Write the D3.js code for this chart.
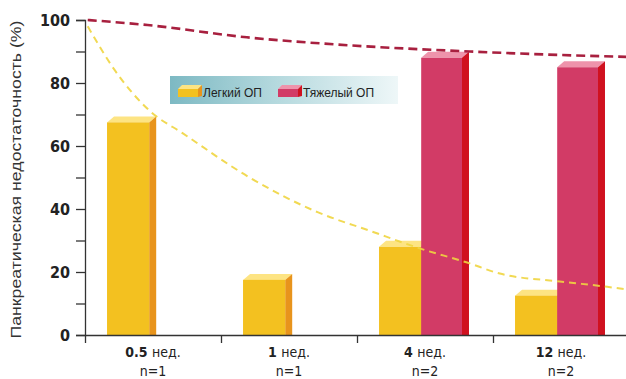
<!DOCTYPE html>
<html>
<head>
<meta charset="utf-8">
<script src="https://cdn.jsdelivr.net/npm/d3@7"></script>
<style>
  body { margin: 0; background: #fff; }
  svg { display: block; font-family: "Liberation Sans", Arial, sans-serif; }
</style>
</head>
<body>
<div id="chart"></div>
<script>
// data
const categories = ["0.5", "1", "4", "12"];
const sampleSizes = ["n=1", "n=1", "n=2", "n=2"];
const mildValues = [67.5, 17.5, 28, 12.5];
const severeValues = [null, null, 88, 85];
const yTicks = [0, 20, 40, 60, 80, 100];

// dashed trend lines, x in category units (0 = y axis, 4 = right edge)
const mildTrendX = [0.02, 0.22, 0.48, 0.72, 1.21, 1.71, 2.10, 2.46, 2.81, 3.05, 3.49, 3.84, 3.98];
const mildTrendY = [98, 84, 71, 64, 50, 39, 33, 27.5, 23, 19.5, 17, 15.3, 14.5];
const severeTrendX = [0.02, 0.46, 1.19, 1.93, 2.83, 3.49, 3.98];
const severeTrendY = [100, 98.4, 94.5, 92, 90, 88.9, 88.3];

const Width = 626, Height = 379;
const Margin = {top: 20, right: -3, bottom: 44, left: 85};

const svg = d3.select("#chart").append("svg")
    .attr("width", Width).attr("height", Height);

const ScaleX = d3.scaleBand().domain(categories)
    .range([Margin.left, Width - Margin.right]).paddingInner(0);
const ScaleT = d3.scaleLinear().domain([0, categories.length])
    .range([Margin.left, Width - Margin.right]);
const ScaleY = d3.scaleLinear().domain([0, 100])
    .range([Height - Margin.bottom, Margin.top]);

const bw = ScaleX.bandwidth();
const depth = 7, rise = 6;

const defs = svg.append("defs");
const lg = defs.append("linearGradient").attr("id", "legendBg")
    .attr("x1", 0).attr("x2", 1).attr("y1", 0).attr("y2", 0);
lg.append("stop").attr("offset", "0%").attr("stop-color", "#7db9c3");
lg.append("stop").attr("offset", "45%").attr("stop-color", "#b3d8dd");
lg.append("stop").attr("offset", "100%").attr("stop-color", "#eef7f8");

const palette = {
    mild: {front: "#f3c120", top: "#fde483", side: "#e8941c"},
    severe: {front: "#d23b66", top: "#ee93ab", side: "#d0111f"}
};

// 3D-looking bar: front, top and side faces
function bar3d(g, x, y0, y1, w, col)
{
    g.append("path").attr("fill", col.top)
        .attr("d", `M${x},${y1} L${x + depth},${y1 - rise} L${x + w + depth},${y1 - rise} L${x + w},${y1} Z`);
    g.append("path").attr("fill", col.side)
        .attr("d", `M${x + w},${y1} L${x + w + depth},${y1 - rise} L${x + w + depth},${y0} L${x + w},${y0} Z`);
    g.append("rect").attr("x", x).attr("y", y1).attr("width", w).attr("height", y0 - y1)
        .attr("fill", col.front);
}

const bars = svg.append("g");
categories.forEach((c, i) => {
    const base = ScaleY(0);
    if(mildValues[i] != null)
        bar3d(bars, ScaleX(c) + bw * 0.162, base, ScaleY(mildValues[i]), bw * 0.31, palette.mild);
    if(severeValues[i] != null)
        bar3d(bars, ScaleX(c) + bw * 0.472, base, ScaleY(severeValues[i]), bw * 0.30, palette.severe);
});

// y axis
const AxisY = d3.axisLeft(ScaleY).tickValues(d3.range(0, 101, 10))
    .tickSize(9).tickPadding(6)
    .tickFormat(d => yTicks.includes(d) ? d : "");
const gy = svg.append("g").attr("transform", `translate(${Margin.left},0)`).call(AxisY);
gy.select(".domain").attr("stroke", "#333").attr("stroke-width", 1.3);
gy.selectAll(".tick line").attr("stroke", "#333").attr("stroke-width", 1.3);
gy.selectAll(".tick text").attr("font-size", 16).attr("fill", "#222")
    .attr("font-family", "'Liberation Sans Narrow', 'DejaVu Sans Condensed', sans-serif")
    .attr("font-weight", 600);

// x axis: ticks at band boundaries
const AxisX = d3.axisBottom(ScaleT).tickValues(d3.range(0, categories.length))
    .tickSize(8).tickFormat("").tickSizeOuter(0);
const gx = svg.append("g").attr("transform", `translate(0,${ScaleY(0)})`).call(AxisX);
gx.select(".domain").attr("stroke", "#333").attr("stroke-width", 1.3);
gx.selectAll(".tick line").attr("stroke", "#333").attr("stroke-width", 1.3);

const catLabels = svg.append("g")
    .attr("font-family", "'Liberation Sans Narrow', 'DejaVu Sans Condensed', sans-serif")
    .attr("font-size", 14).attr("fill", "#222").attr("text-anchor", "middle");
categories.forEach((c, i) => {
    const cx = ScaleX(c) + bw / 2;
    const t = catLabels.append("text").attr("x", cx).attr("y", 357);
    t.append("tspan").attr("font-weight", "bold").text(c + " ");
    t.append("tspan").text("нед.");
    catLabels.append("text").attr("x", cx).attr("y", 376).text(sampleSizes[i]);
});

// y axis title
svg.append("text")
    .attr("transform", `translate(21,${ScaleY(50) + 2}) rotate(-90)`)
    .attr("text-anchor", "middle").attr("font-size", 14.5).attr("fill", "#333")
    .attr("textLength", 318).attr("lengthAdjust", "spacingAndGlyphs")
    .text("Панкреатическая недостаточность (%)");

// trend lines
const Line = d3.line().x(d => ScaleT(d[0])).y(d => ScaleY(d[1])).curve(d3.curveMonotoneX);
svg.append("path").attr("fill", "none").attr("stroke", "#f0d540")
    .attr("stroke-width", 2).attr("stroke-dasharray", "7,5").attr("opacity", 0.9)
    .attr("d", Line(d3.zip(mildTrendX, mildTrendY)));
svg.append("path").attr("fill", "none").attr("stroke", "#a8203f")
    .attr("stroke-width", 2.6).attr("stroke-dasharray", "9,5")
    .attr("d", Line(d3.zip(severeTrendX, severeTrendY)));

// legend
const leg = svg.append("g");
leg.append("rect").attr("x", 170).attr("y", 76).attr("width", 228).attr("height", 28)
    .attr("fill", "url(#legendBg)");
const legendItems = [
    {label: "Легкий ОП", col: palette.mild, x: 178},
    {label: "Тяжелый ОП", col: palette.severe, x: 278}
];
legendItems.forEach(it => {
    const sw = 20, sh = 8, sy = 89;
    leg.append("path").attr("fill", it.col.top)
        .attr("d", `M${it.x},${sy} L${it.x + 4},${sy - 4} L${it.x + sw + 4},${sy - 4} L${it.x + sw},${sy} Z`);
    leg.append("path").attr("fill", it.col.side)
        .attr("d", `M${it.x + sw},${sy} L${it.x + sw + 4},${sy - 4} L${it.x + sw + 4},${sy + sh - 1} L${it.x + sw},${sy + sh} Z`);
    leg.append("rect").attr("x", it.x).attr("y", sy).attr("width", sw).attr("height", sh)
        .attr("fill", it.col.front);
    leg.append("text").attr("x", it.x + sw + 5).attr("y", 97)
        .attr("font-size", 12).attr("fill", "#222").text(it.label);
});
</script>
</body>
</html>
